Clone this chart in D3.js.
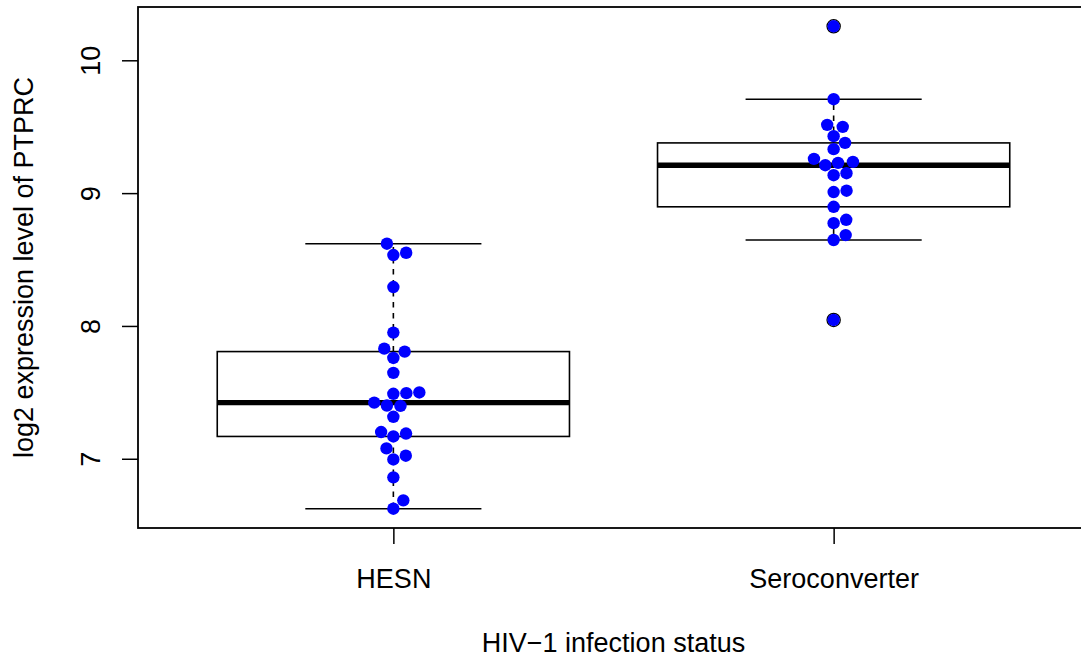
<!DOCTYPE html>
<html>
<head>
<meta charset="utf-8">
<script src="https://cdn.jsdelivr.net/npm/d3@7"></script>
<style>
  html, body { margin: 0; padding: 0; background: #fff; overflow: hidden; }
  svg { display: block; font-family: "Liberation Sans", Arial, Helvetica, sans-serif; }
</style>
</head>
<body>
<svg id="chart" width="1081" height="659"></svg>
<script>
// Groups and per-sample log2 PTPRC expression
const groups = ["HESN", "Seroconverter"];
const hesnValues = [
  8.619, 8.534, 8.551, 8.293, 7.950, 7.829, 7.807, 7.759, 7.647,
  7.489, 7.494, 7.499, 7.423, 7.398, 7.401, 7.316, 7.201, 7.168,
  7.190, 7.078, 6.995, 7.023, 6.860, 6.687, 6.624
];
const seroValues = [
  10.256, 9.707, 9.514, 9.499, 9.429, 9.378, 9.331, 9.258, 9.210,
  9.228, 9.235, 9.135, 9.150, 9.008, 9.018, 8.897, 8.774, 8.799,
  8.647, 8.684, 8.045
];
const yTicks = [7, 8, 9, 10];
const xTitle = "HIV\u22121 infection status";
const yTitle = "log2 expression level of PTPRC";

const seriesValues = [hesnValues, seroValues];

const svg = d3.select("#chart");
const W = 1081, H = 659;
const plot = { left: 138, right: 1089, top: 7, bottom: 528 };
const fontSize = 27;
const pointDiameter = 13;
const pointRadius = 6.2;

svg.append("rect").attr("width", W).attr("height", H).attr("fill", "#fff");

// Scales: group positions 1..n padded like a base-graphics boxplot
const x = d3.scaleLinear()
  .domain([0.5 - 0.04 * groups.length, groups.length + 0.5 + 0.04 * groups.length])
  .range([plot.left, plot.right]);
const allValues = seriesValues.flat();
const [vmin, vmax] = d3.extent(allValues);
const pad = (vmax - vmin) * 0.04;
const y = d3.scaleLinear().domain([vmin - pad, vmax + pad]).range([plot.bottom, plot.top]);

// Tukey five-number summary
function fivenum(arr) {
  const v = arr.slice().sort((a, b) => a - b);
  const n = v.length;
  const n4 = Math.floor((n + 3) / 2) / 2;
  const d = [1, n4, (n + 1) / 2, n + 1 - n4, n];
  return d.map(k => 0.5 * (v[Math.floor(k) - 1] + v[Math.ceil(k) - 1]));
}

function boxStats(arr) {
  const [mn, q1, med, q3, mx] = fivenum(arr);
  const iqr = q3 - q1;
  const lo = q1 - 1.5 * iqr, hi = q3 + 1.5 * iqr;
  const inside = arr.filter(v => v >= lo && v <= hi);
  return {
    q1, med, q3,
    wLo: d3.min(inside), wHi: d3.max(inside),
    outliers: arr.filter(v => v < lo || v > hi)
  };
}

// Swarm placement: ascending order, each point takes the offset closest to
// the centre that does not overlap any already-placed point (pixel space).
function swarm(values) {
  const pts = values.map((v, i) => ({ v, i, py: y(v) / pointDiameter, off: 0 }))
    .sort((a, b) => a.v - b.v);
  for (let k = 1; k < pts.length; k++) {
    const p = pts[k];
    const pre = pts.slice(0, k).filter(q => Math.abs(p.py - q.py) < 1);
    if (!pre.length) { p.off = 0; continue; }
    const cand = [0];
    pre.forEach(q => cand.push(q.off + Math.sqrt(1 - (p.py - q.py) ** 2)));
    pre.forEach(q => cand.push(q.off - Math.sqrt(1 - (p.py - q.py) ** 2)));
    let best = Infinity, bestAbs = Infinity;
    cand.forEach(c => {
      const bad = pre.some(q => (p.py - q.py) ** 2 + (c - q.off) ** 2 < 0.999);
      if (!bad && Math.abs(c) < bestAbs) { bestAbs = Math.abs(c); best = c; }
    });
    p.off = best;
  }
  return pts.map(p => ({ v: p.v, dx: p.off * pointDiameter }));
}

const boxHalf = (x(1.4) - x(1)); // boxwex 0.8
const capHalf = boxHalf / 2;

const g = svg.append("g");

seriesValues.forEach((vals, gi) => {
  const cx = x(gi + 1);
  const s = boxStats(vals);
  const bg = g.append("g");
  // whiskers (dashed)
  [[s.q3, s.wHi], [s.q1, s.wLo]].forEach(([a, b]) => {
    bg.append("line")
      .attr("x1", cx).attr("x2", cx).attr("y1", y(a)).attr("y2", y(b))
      .attr("stroke", "#000").attr("stroke-width", 1.6).attr("stroke-dasharray", "5.5,5.5");
  });
  // whisker caps
  [s.wHi, s.wLo].forEach(v => {
    bg.append("line")
      .attr("x1", cx - capHalf).attr("x2", cx + capHalf).attr("y1", y(v)).attr("y2", y(v))
      .attr("stroke", "#000").attr("stroke-width", 1.6);
  });
  // box
  bg.append("rect")
    .attr("x", cx - boxHalf).attr("width", 2 * boxHalf)
    .attr("y", y(s.q3)).attr("height", y(s.q1) - y(s.q3))
    .attr("fill", "none").attr("stroke", "#000").attr("stroke-width", 1.6);
  // median
  bg.append("line")
    .attr("x1", cx - boxHalf).attr("x2", cx + boxHalf).attr("y1", y(s.med)).attr("y2", y(s.med))
    .attr("stroke", "#000").attr("stroke-width", 5.4);
  // outlier rings
  bg.selectAll("circle.out").data(s.outliers).join("circle")
    .attr("class", "out")
    .attr("cx", cx).attr("cy", d => y(d)).attr("r", 6.6)
    .attr("fill", "none").attr("stroke", "#000").attr("stroke-width", 1.3);
});

// beeswarm points
seriesValues.forEach((vals, gi) => {
  const cx = x(gi + 1);
  g.append("g").selectAll("circle").data(swarm(vals)).join("circle")
    .attr("cx", d => cx + d.dx).attr("cy", d => y(d.v)).attr("r", pointRadius)
    .attr("fill", "#0000ff");
});

// plot frame
svg.append("rect")
  .attr("x", plot.left).attr("y", plot.top)
  .attr("width", plot.right - plot.left).attr("height", plot.bottom - plot.top)
  .attr("fill", "none").attr("stroke", "#000").attr("stroke-width", 1.8);

// y axis
const yAxis = svg.append("g").attr("transform", `translate(${plot.left},0)`)
  .call(d3.axisLeft(y).tickValues(yTicks).tickFormat(d3.format("d")).tickSize(16));
yAxis.select(".domain").remove();
yAxis.selectAll(".tick line").attr("stroke", "#000").attr("stroke-width", 1.5);
yAxis.selectAll(".tick text")
  .attr("transform", "rotate(-90)")
  .attr("x", 0).attr("y", -38).attr("dy", 0)
  .attr("text-anchor", "middle")
  .attr("font-size", fontSize).attr("font-family", null).attr("fill", "#000");

// x axis
const xAxis = svg.append("g").attr("transform", `translate(0,${plot.bottom})`)
  .call(d3.axisBottom(x).tickValues(groups.map((_, i) => i + 1))
    .tickFormat(d => groups[d - 1]).tickSize(16));
xAxis.select(".domain").remove();
xAxis.selectAll(".tick line").attr("stroke", "#000").attr("stroke-width", 1.5);
xAxis.selectAll(".tick text")
  .attr("y", 60).attr("dy", 0)
  .attr("font-size", fontSize).attr("font-family", null).attr("fill", "#000");

// axis titles
svg.append("text")
  .attr("x", (plot.left + plot.right) / 2).attr("y", 652)
  .attr("text-anchor", "middle").attr("font-size", fontSize).attr("fill", "#000")
  .text(xTitle);
svg.append("text")
  .attr("transform", `translate(33,${(plot.top + plot.bottom) / 2}) rotate(-90)`)
  .attr("text-anchor", "middle").attr("font-size", fontSize).attr("fill", "#000")
  .text(yTitle);
</script>
</body>
</html>
